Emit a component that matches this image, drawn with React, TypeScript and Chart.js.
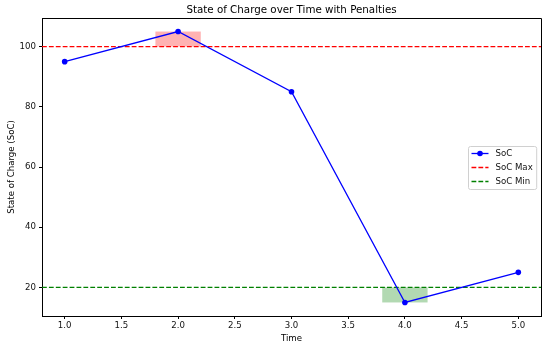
import React, { useEffect, useRef } from "react";
import { Chart, registerables } from "chart.js";

Chart.register(...registerables);

const timeValues = [1, 2, 3, 4, 5];
const socValues = [95, 105, 85, 15, 25];
const socMaxValue = 100;
const socMinValue = 20;
const xAxisMin = 0.8;
const xAxisMax = 5.2;
const yAxisMin = 10.5;
const yAxisMax = 109.5;
const xTickValues = [1.0, 1.5, 2.0, 2.5, 3.0, 3.5, 4.0, 4.5, 5.0];
const yTickValues = [20, 40, 60, 80, 100];
const penaltyStart = [1.8, 3.8];
const penaltyEnd = [2.2, 4.2];
const penaltyLow = [100, 15];
const penaltyHigh = [105, 20];
const penaltyColors = ["rgba(255,0,0,0.3)", "rgba(0,128,0,0.3)"];
const titleText = "State of Charge over Time with Penalties";

const FONT = "'DejaVu Sans', sans-serif";
const TICK_SIZE = 8.6;
const DASH = [4.8, 2.1];

const overlayPlugin = {
  id: "socOverlay",
  beforeDatasetsDraw(chart: any) {
    const { ctx, scales } = chart;
    const xs = scales.x;
    const ys = scales.y;
    ctx.save();
    for (let i = 0; i < penaltyStart.length; i++) {
      const x1 = xs.getPixelForValue(penaltyStart[i]);
      const x2 = xs.getPixelForValue(penaltyEnd[i]);
      const y1 = ys.getPixelForValue(penaltyHigh[i]);
      const y2 = ys.getPixelForValue(penaltyLow[i]);
      ctx.fillStyle = penaltyColors[i];
      ctx.fillRect(x1, y1, x2 - x1, y2 - y1);
    }
    ctx.restore();
  },
  afterDraw(chart: any) {
    const { ctx, chartArea } = chart;
    ctx.save();
    // frame top/right
    ctx.strokeStyle = "#000";
    ctx.lineWidth = 1;
    ctx.setLineDash([]);
    ctx.beginPath();
    ctx.moveTo(chartArea.left, chartArea.top + 0.5);
    ctx.lineTo(chartArea.right + 0.5, chartArea.top + 0.5);
    ctx.lineTo(chartArea.right + 0.5, chartArea.bottom);
    ctx.stroke();

    // title
    ctx.fillStyle = "#000";
    ctx.font = `10.3px ${FONT}`;
    ctx.textAlign = "center";
    ctx.textBaseline = "alphabetic";
    ctx.fillText(titleText, (chartArea.left + chartArea.right) / 2, 13);

    // legend
    const ds = chart.data.datasets;
    ctx.font = `${TICK_SIZE}px ${FONT}`;
    let maxW = 0;
    for (const d of ds) maxW = Math.max(maxW, ctx.measureText(d.label).width);
    const pad = 3.5;
    const handle = 17;
    const textPad = 7;
    const w = pad * 2 + handle + textPad + maxW;
    const h = 43;
    const bx = Math.round(chartArea.right - 4.3 - w);
    const by = Math.round((chartArea.top + chartArea.bottom) / 2 - h / 2);
    ctx.fillStyle = "rgba(255,255,255,0.8)";
    ctx.strokeStyle = "#d0d0d0";
    ctx.lineWidth = 1;
    ctx.beginPath();
    (ctx as any).roundRect(bx + 0.5, by + 0.5, w, h, 2);
    ctx.fill();
    ctx.stroke();
    ctx.textBaseline = "middle";
    ctx.textAlign = "left";
    for (let i = 0; i < ds.length; i++) {
      const d = ds[i];
      const y = by + 7.5 + i * 14;
      ctx.strokeStyle = d.borderColor;
      ctx.lineWidth = 1.3;
      ctx.setLineDash(d.borderDash || []);
      ctx.beginPath();
      ctx.moveTo(bx + pad, y);
      ctx.lineTo(bx + pad + handle, y);
      ctx.stroke();
      if (d.pointRadius > 0) {
        ctx.fillStyle = d.borderColor;
        ctx.beginPath();
        ctx.arc(bx + pad + handle / 2, y, d.pointRadius, 0, Math.PI * 2);
        ctx.fill();
      }
      ctx.fillStyle = "#111";
      ctx.fillText(d.label, bx + pad + handle + textPad, y + 0.5);
    }
    ctx.restore();
  },
};

export default function App() {
  const ref = useRef<HTMLCanvasElement>(null);
  useEffect(() => {
    document.body.style.margin = "0";
    const chart = new Chart(ref.current as HTMLCanvasElement, {
      type: "line",
      data: {
        datasets: [
          {
            label: "SoC",
            data: timeValues.map((t, i) => ({ x: t, y: socValues[i] })),
            borderColor: "#0000ff",
            backgroundColor: "#0000ff",
            borderWidth: 1.3,
            pointRadius: 2.8,
            pointBorderWidth: 0,
            tension: 0,
            order: 0,
          },
          {
            label: "SoC Max",
            data: [
              { x: xAxisMin, y: socMaxValue },
              { x: xAxisMax, y: socMaxValue },
            ],
            borderColor: "#ff0000",
            backgroundColor: "#ff0000",
            borderWidth: 1.3,
            borderDash: DASH,
            pointRadius: 0,
            order: 1,
          },
          {
            label: "SoC Min",
            data: [
              { x: xAxisMin, y: socMinValue },
              { x: xAxisMax, y: socMinValue },
            ],
            borderColor: "#008000",
            backgroundColor: "#008000",
            borderWidth: 1.3,
            borderDash: DASH,
            pointRadius: 0,
            order: 2,
          },
        ],
      },
      options: {
        animation: false,
        responsive: false,
        layout: { padding: { right: 9, top: 18, left: 0, bottom: 0 } },
        plugins: {
          legend: { display: false },
          tooltip: { enabled: false },
          title: { display: false },
        },
        scales: {
          x: {
            type: "linear",
            min: xAxisMin,
            max: xAxisMax,
            afterBuildTicks: (s: any) => {
              s.ticks = xTickValues.map((v) => ({ value: v }));
            },
            afterFit: (s: any) => {
              s.height = 31;
            },
            ticks: {
              color: "#111",
              font: { family: FONT, size: TICK_SIZE },
              padding: 2,
              maxRotation: 0,
              autoSkip: false,
              callback: (v: any) => Number(v).toFixed(1),
            },
            grid: {
              drawOnChartArea: false,
              drawTicks: true,
              tickLength: 3,
              color: "#000",
            },
            border: { display: true, color: "#000", width: 1 },
            title: {
              display: true,
              text: "Time",
              color: "#000",
              font: { family: FONT, size: TICK_SIZE },
              padding: { top: 0, bottom: 3 },
            },
          },
          y: {
            type: "linear",
            min: yAxisMin,
            max: yAxisMax,
            afterBuildTicks: (s: any) => {
              s.ticks = yTickValues.map((v) => ({ value: v }));
            },
            afterFit: (s: any) => {
              s.width = 42;
            },
            ticks: {
              color: "#111",
              font: { family: FONT, size: TICK_SIZE },
              padding: 3,
              autoSkip: false,
            },
            grid: {
              drawOnChartArea: false,
              drawTicks: true,
              tickLength: 3,
              color: "#000",
            },
            border: { display: true, color: "#000", width: 1 },
            title: {
              display: true,
              text: "State of Charge (SoC)",
              color: "#000",
              font: { family: FONT, size: TICK_SIZE },
              padding: { top: 6.5, bottom: 0 },
            },
          },
        },
      },
      plugins: [overlayPlugin],
    } as any);
    return () => chart.destroy();
  }, []);
  return (
    <div style={{ position: "fixed", left: 0, top: 0, width: 550, height: 347 }}>
      <canvas ref={ref} width={550} height={347} style={{ display: "block" }} />
    </div>
  );
}
